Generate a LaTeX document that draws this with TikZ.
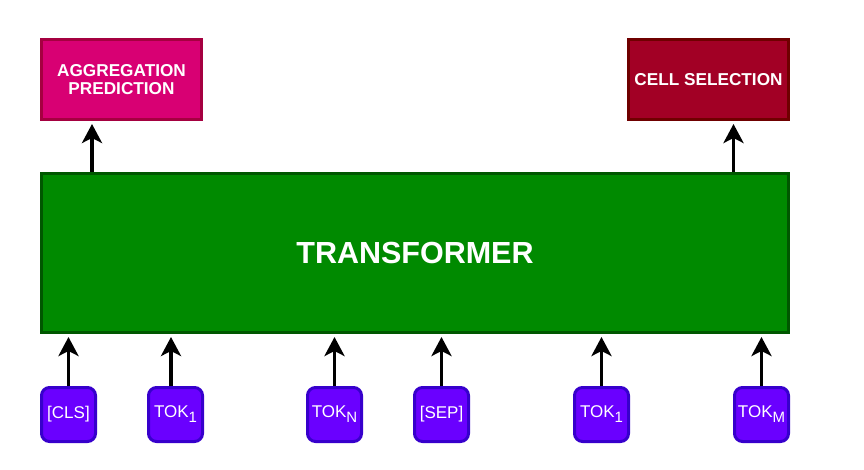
\documentclass[tikz,border=0pt]{standalone}
\usepackage{fontspec}
\setmainfont{Liberation Sans}
\usetikzlibrary{arrows.meta,positioning}
\definecolor{aggfill}{HTML}{D80073}
\definecolor{aggline}{HTML}{A50040}
\definecolor{cellfill}{HTML}{A20025}
\definecolor{cellline}{HTML}{6F0000}
\definecolor{trfill}{HTML}{008A00}
\definecolor{trline}{HTML}{005700}
\definecolor{tokfill}{HTML}{6A00FF}
\definecolor{tokline}{HTML}{3700CC}
\newcommand{\toksub}[1]{\raisebox{-5pt}{\fontsize{15}{15}\selectfont #1}}
\begin{document}
\begin{tikzpicture}[
  x=1pt, y=-1pt,
  head/.style={rectangle, draw, line width=3pt, minimum width=160pt, minimum height=80pt, text=white, align=center, font=\fontsize{17.2}{18.5}\selectfont\bfseries},
  tok/.style={rectangle, rounded corners=8pt, draw=tokline, fill=tokfill, line width=3pt, minimum width=54pt, minimum height=54pt, inner sep=0pt, text=white, font=\fontsize{17}{18}\selectfont},
  flow/.style={-{Stealth[length=19pt, width=20pt, inset=5pt]}, line width=3.5pt, shorten >=3pt}
]
\useasboundingbox (0,0) rectangle (864,470);
\node[head, fill=aggfill, draw=aggline] (agg) at (121.5,79.5) {AGGREGATION\\PREDICTION};
\node[head, fill=cellfill, draw=cellline] (cell) at (708.5,79.5) {CELL SELECTION};
\node[rectangle, draw=trline, fill=trfill, line width=3pt, minimum width=747pt, minimum height=159pt, text=white, font=\fontsize{30.5}{34}\selectfont\bfseries] (trans) at (415,253) {TRANSFORMER};

\node[tok] (cls) at (68.5,414.5) {[CLS]};
\node[tok, right=50pt of cls] (toka) {TOK\toksub{1}};
\node[tok] (tokn) at (334.5,414.5) {TOK\toksub{N}};
\node[tok, right=50pt of tokn] (sep) {[SEP]};
\node[tok] (tokb) at (601.5,414.5) {TOK\toksub{1}};
\node[tok] (tokm) at (761.5,414.5) {TOK\toksub{M}};

\coordinate (aggfoot) at (92,172);
\coordinate (cellfoot) at (733.5,172);
\coordinate (tokafoot) at (171,386);

\draw[flow] (cls.north) -- (cls.north |- trans.south);
\draw[flow] (tokafoot) -- (tokafoot |- trans.south);
\draw[flow] (tokn.north) -- (tokn.north |- trans.south);
\draw[flow] (sep.north) -- (sep.north |- trans.south);
\draw[flow] (tokb.north) -- (tokb.north |- trans.south);
\draw[flow] (tokm.north) -- (tokm.north |- trans.south);
\draw[flow] (aggfoot) -- (aggfoot |- agg.south);
\draw[flow] (cellfoot) -- (cellfoot |- cell.south);
\end{tikzpicture}
\end{document}
